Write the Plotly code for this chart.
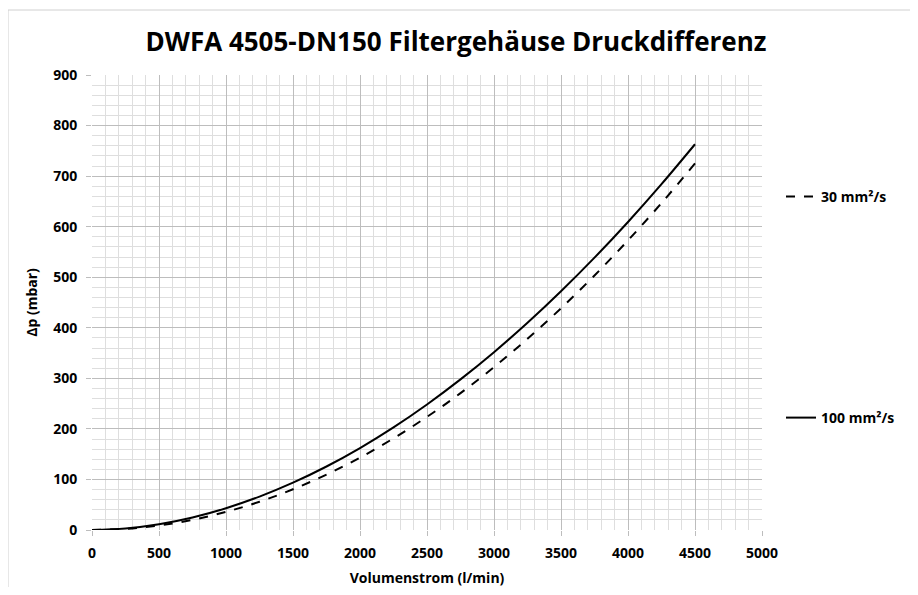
import plotly.graph_objects as go

flow = [0, 250, 500, 750, 1000, 1250, 1500, 1750, 2000, 2250, 2500, 2750,
        3000, 3250, 3500, 3750, 4000, 4250, 4500]
dp_30 = [0, 2.2, 9.0, 20.1, 35.8, 55.9, 80.6, 109.6, 143.2, 181.3, 223.8, 270.7,
         322.2, 378.2, 438.6, 503.5, 572.8, 646.6, 725]
dp_100 = [0, 3.1, 11.5, 24.9, 43.1, 66.1, 93.6, 125.6, 162.1, 203.0, 248.3, 297.9,
          351.7, 409.8, 472.2, 538.7, 609.3, 684.1, 763]

title = "DWFA 4505-DN150 Filtergehäuse Druckdifferenz"
x_title = "Volumenstrom (l/min)"
y_title = "Δp (mbar)"
name_30 = "30 mm²/s"
name_100 = "100 mm²/s"

FONT = "Open Sans"

fig = go.Figure()
fig.add_trace(go.Scatter(x=flow, y=dp_30, mode="lines", name=name_30,
                         line=dict(color="black", width=2, dash="dash", shape="spline"),
                         legend="legend", showlegend=True))
fig.add_trace(go.Scatter(x=flow, y=dp_100, mode="lines", name=name_100,
                         line=dict(color="black", width=2, shape="spline"),
                         legend="legend2", showlegend=True))

# page offset of the figure (body margin)
OX, OY = 8, 8
W, H = 902, 579
L, R, T, B = 92 - OX, 762 - OX, 75 - OY, 530 - OY
pw, ph = R - L, B - T

def px(xp):
    return (xp - OX - L) / pw

def py(yp):
    return (B - (yp - OY)) / ph

tickfont = dict(family=FONT, size=14, color="black", weight="bold")
axis_common = dict(
    showgrid=True, gridcolor="#bdbdbd", gridwidth=1,
    zeroline=False, showline=False,
    ticks="outside", ticklen=5, tickcolor="#bdbdbd",
    tickfont=tickfont,
)

fig.update_xaxes(range=[0, 5000], dtick=500, tick0=0,
                 minor=dict(dtick=100, showgrid=True, gridcolor="#dedede", gridwidth=1),
                 title=dict(text=x_title, font=dict(family=FONT, size=14, color="black", weight="bold"), standoff=12),
                 ticklabelstandoff=5,
                 **axis_common)
fig.update_yaxes(range=[0, 900], dtick=100, tick0=0,
                 minor=dict(dtick=20, showgrid=True, gridcolor="#dedede", gridwidth=1),
                 title=dict(text=y_title, font=dict(family=FONT, size=14, color="black", weight="bold"), standoff=12),
                 ticklabelstandoff=6,
                 **axis_common)

legend_common = dict(
    font=dict(family=FONT, size=14, color="black", weight="bold"),
    bgcolor="rgba(0,0,0,0)", itemwidth=30, xanchor="left", yanchor="middle",
    tracegroupgap=0,
)

fig.update_layout(
    width=W, height=H,
    margin=dict(l=L, r=W - R, t=T, b=H - B, autoexpand=False),
    paper_bgcolor="white", plot_bgcolor="white",
    showlegend=True,
    title=dict(text=title, x=(456 - OX) / W, xanchor="center", y=1 - (42 - OY) / H, yanchor="middle",
               font=dict(family=FONT, size=26, color="black", weight="bold")),
    legend=dict(x=px(781), y=py(197), **legend_common),
    legend2=dict(x=px(781), y=py(418), **legend_common),
    shapes=[dict(type="rect", xref="paper", yref="paper",
                 x0=px(8), y0=py(640), x1=px(960), y1=py(10),
                 line=dict(color="#d0d0d0", width=1), fillcolor="rgba(0,0,0,0)",
                 layer="below")],
)

fig.write_html("out.html")
